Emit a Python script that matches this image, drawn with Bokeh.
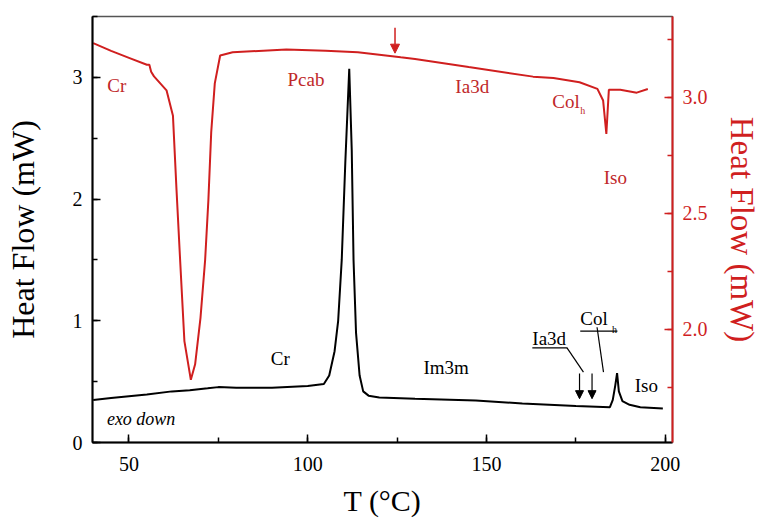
from bokeh.plotting import figure
from bokeh.models import LinearAxis, Range1d, SingleIntervalTicker, Arrow, NormalHead, NumeralTickFormatter
from bokeh.core.properties import value
from bokeh.embed import file_html
from bokeh.resources import INLINE

# ---- data ----
# heating trace (black, left axis)
t_heat = [40, 45, 50, 55, 62, 67, 72, 75, 80, 90, 100, 104.5, 106, 107.5, 108.5, 109.5, 110.5,
          111.6, 112.3, 112.8, 113.5, 114.5, 115.5, 117, 120, 130, 147, 160, 175, 184.5,
          185.3, 186, 186.5, 187, 188, 190, 193, 199.3]
hf_heat = [0.35, 0.365, 0.38, 0.395, 0.42, 0.43, 0.445, 0.455, 0.45, 0.45, 0.465, 0.48, 0.55,
           0.75, 1.0, 1.5, 2.3, 3.07, 2.4, 1.5, 0.9, 0.55, 0.42, 0.385, 0.37, 0.36, 0.345,
           0.32, 0.30, 0.29, 0.35, 0.47, 0.57, 0.42, 0.34, 0.31, 0.29, 0.28]

# cooling trace (red, right axis)
t_cool = [40, 45, 50, 55, 55.7, 56.2, 57, 60.5, 62.3, 63.3, 64.3, 65.5, 67.3, 68.5, 70, 71.3,
          72.2, 73, 74, 75.5, 79, 94, 105, 114, 120, 126, 130, 145, 163, 168.7, 176, 181,
          182.6, 183.5, 184.2, 187.4, 192, 195.1]
hf_cool = [3.233, 3.20, 3.17, 3.14, 3.14, 3.11, 3.09, 3.03, 2.92, 2.60, 2.30, 1.95, 1.783,
           1.85, 2.05, 2.30, 2.555, 2.85, 3.06, 3.18, 3.194, 3.206, 3.20, 3.194, 3.183,
           3.172, 3.165, 3.13, 3.089, 3.083, 3.065, 3.036, 2.986, 2.842, 3.032, 3.032,
           3.02, 3.036]

# phase labels on the cooling trace (right axis)
red_lbl_text = ["Cr", "Pcab", "Ia3d", "Iso"]
red_lbl_x = [46.6, 99.5, 146.0, 186.0]
red_lbl_y = [3.05, 3.076, 3.046, 2.654]
red_col_x, red_col_y = 168.4, 2.982
red_sub_x, red_sub_y = 176.2, 2.943
red_arrow_x, red_arrow_y0, red_arrow_y1 = 124.4, 3.30, 3.19

# phase labels on the heating trace (left axis)
blk_lbl_text = ["Cr", "Im3m", "Iso"]
blk_lbl_x = [92.3, 138.7, 194.7]
blk_lbl_y = [0.69, 0.616, 0.468]
ia3d_x, ia3d_y = 162.8, 0.855
ia3d_ul_x0, ia3d_ul_x1, ia3d_ul_y = 162.8, 172.6, 0.778
col_x, col_y = 176.2, 1.019
col_sub_x, col_sub_y = 185.1, 0.928
col_ul_x0, col_ul_x1, col_ul_y = 176.2, 186.6, 0.915
lead_x0 = [172.5, 180.9]
lead_y0 = [0.778, 0.947]
lead_x1 = [177.1, 182.7]
lead_y1 = [0.578, 0.578]
blk_arrow_x = [176.0, 179.5]
blk_arrow_y0, blk_arrow_y1 = 0.567, 0.36
exo_x, exo_y = 53.4, 0.197

RED = "#d01f1f"
RED_TXT = "#c0282a"
FONT = "Liberation Serif"

p = figure(width=764, height=522,
           x_range=Range1d(39.8, 202), y_range=Range1d(0, 3.5),
           output_backend="svg", toolbar_location=None,
           min_border_left=92, min_border_right=92, min_border_top=16, min_border_bottom=80)
p.extra_y_ranges = {"right": Range1d(1.513, 3.348)}

p.xgrid.visible = False
p.ygrid.visible = False
p.outline_line_color = "#555555"
p.outline_line_width = 1.5
p.background_fill_color = "white"
p.border_fill_color = "white"

def style_axis(ax, color, label_size="20px"):
    ax.axis_line_color = color
    ax.axis_line_width = 2
    ax.major_tick_line_color = color
    ax.minor_tick_line_color = color
    ax.major_tick_line_width = 1.5
    ax.minor_tick_line_width = 1.5
    ax.major_tick_in = 8
    ax.major_tick_out = 0
    ax.minor_tick_in = 5
    ax.minor_tick_out = 0
    ax.major_label_text_color = color
    ax.major_label_text_font = FONT
    ax.major_label_text_font_size = label_size
    ax.axis_label_text_color = color
    ax.axis_label_text_font = FONT
    ax.axis_label_text_font_style = "normal"

xa = p.xaxis[0]
style_axis(xa, "black")
xa.ticker = SingleIntervalTicker(interval=50, num_minor_ticks=2)
xa.axis_label = "T (°C)"
xa.axis_label_text_font_size = "30px"
xa.major_label_standoff = 14
xa.axis_label_standoff = 10

ya = p.yaxis[0]
style_axis(ya, "black")
ya.ticker = SingleIntervalTicker(interval=1, num_minor_ticks=2)
ya.axis_label = "Heat Flow (mW)"
ya.axis_label_text_font_size = "32px"
ya.major_label_standoff = 10
ya.axis_label_standoff = 29

ra = LinearAxis(y_range_name="right")
style_axis(ra, RED)
ra.ticker = SingleIntervalTicker(interval=0.5, num_minor_ticks=2)
ra.formatter = NumeralTickFormatter(format="0.0")
ra.axis_label = "Heat Flow (mW)"
ra.axis_label_text_font_size = "33px"
ra.major_label_standoff = 10
ra.axis_label_standoff = 13
p.add_layout(ra, "right")

# curves
p.line(t_heat, hf_heat, line_color="black", line_width=2)
p.line(t_cool, hf_cool, line_color=RED, line_width=2, y_range_name="right")

# red annotations
p.text(x=red_lbl_x, y=red_lbl_y, text=red_lbl_text, text_font=value(FONT), text_font_size="19px",
       text_color=RED_TXT, text_align="center", text_baseline="middle", y_range_name="right")
p.text(x=[red_col_x], y=[red_col_y], text=["Col"], text_font=value(FONT), text_font_size="19px",
       text_color=RED_TXT, text_align="left", text_baseline="middle", y_range_name="right")
p.text(x=[red_sub_x], y=[red_sub_y], text=["h"], text_font=value(FONT), text_font_size="10px",
       text_color=RED_TXT, text_align="left", text_baseline="middle", y_range_name="right")
p.add_layout(Arrow(end=NormalHead(size=9, fill_color=RED, line_color=RED),
                   x_start=red_arrow_x, y_start=red_arrow_y0, x_end=red_arrow_x, y_end=red_arrow_y1,
                   line_color=RED, line_width=1.5, y_range_name="right"))

# black annotations
p.text(x=blk_lbl_x, y=blk_lbl_y, text=blk_lbl_text, text_font=value(FONT), text_font_size="19px",
       text_color="black", text_align="center", text_baseline="middle")
p.text(x=[ia3d_x], y=[ia3d_y], text=["Ia3d"], text_font=value(FONT), text_font_size="19px",
       text_color="black", text_align="left", text_baseline="middle")
p.segment(x0=[ia3d_ul_x0], y0=[ia3d_ul_y], x1=[ia3d_ul_x1], y1=[ia3d_ul_y], line_color="black", line_width=1.2)
p.text(x=[col_x], y=[col_y], text=["Col"], text_font=value(FONT), text_font_size="19px",
       text_color="black", text_align="left", text_baseline="middle")
p.text(x=[col_sub_x], y=[col_sub_y], text=["h"], text_font=value(FONT), text_font_size="10px",
       text_color="black", text_align="left", text_baseline="middle")
p.segment(x0=[col_ul_x0], y0=[col_ul_y], x1=[col_ul_x1], y1=[col_ul_y], line_color="black", line_width=1.2)
p.segment(x0=lead_x0, y0=lead_y0, x1=lead_x1, y1=lead_y1, line_color="black", line_width=1.2)
for ax_ in blk_arrow_x:
    p.add_layout(Arrow(end=NormalHead(size=8, fill_color="black", line_color="black"),
                       x_start=ax_, y_start=blk_arrow_y0, x_end=ax_, y_end=blk_arrow_y1,
                       line_color="black", line_width=1.2))
p.text(x=[exo_x], y=[exo_y], text=["exo down"], text_font=value(FONT), text_font_size="18px",
       text_font_style="italic", text_color="black", text_align="center", text_baseline="middle")

open("out.html", "w").write(file_html(p, INLINE))
